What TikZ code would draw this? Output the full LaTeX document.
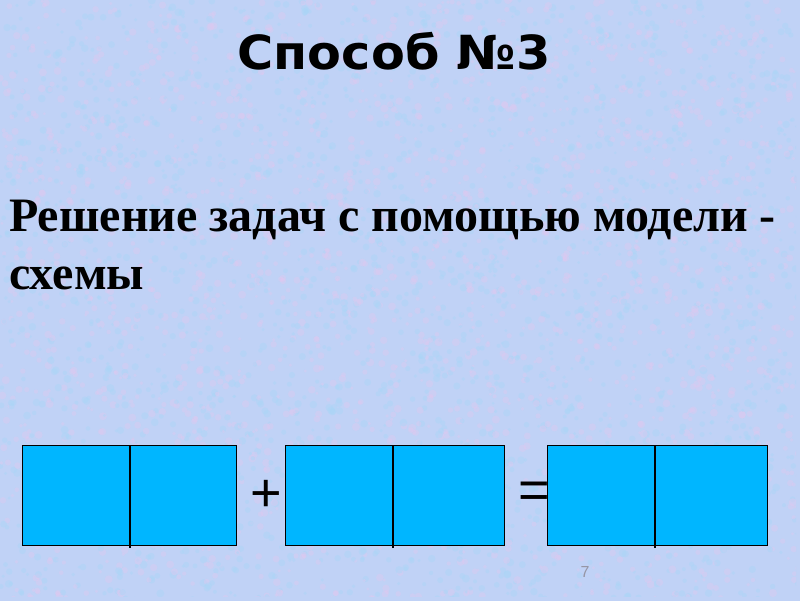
\documentclass[tikz,border=0pt]{standalone}
\usepackage{fontspec}
\setmainfont{Liberation Serif}
\newfontfamily\titlefont[FakeStretch=1.05]{DejaVu Sans}
\newfontfamily\signfont{Liberation Sans}
\usepackage{tikz}
\usetikzlibrary{positioning}

\definecolor{bgblue}{RGB}{192,210,246}
\definecolor{spotpink}{RGB}{224,200,240}
\definecolor{spotblue}{RGB}{170,214,248}
\definecolor{cellblue}{RGB}{0,182,255}
\definecolor{pagegray}{RGB}{150,150,165}

\tikzset{
	cell/.style={draw=black, line width=1.2pt, fill=cellblue, minimum height=100pt, inner sep=0pt, anchor=north west},
	sign/.style={font=\signfont\fontsize{54pt}{54pt}\selectfont, inner sep=0pt}
}

\begin{document}
\begin{tikzpicture}[x=1pt, y=-1pt]
		\useasboundingbox (0, 0) rectangle (800, 600);
		\fill[bgblue] (-5, -5) rectangle (805, 605);
		\begin{scope}
			\clip (-1, -1) rectangle (796, 596);
			% mottled background
			\pgfmathsetseed{7}
			\foreach \i in {1, ..., 2200} {
				\pgfmathsetmacro{\px}{800*rnd}
				\pgfmathsetmacro{\py}{600*rnd}
				\pgfmathsetmacro{\pr}{1.5+2.5*rnd}
				\fill[spotpink, opacity=0.4] (\px, \py) circle[radius=\pr];
				\pgfmathsetmacro{\qx}{800*rnd}
				\pgfmathsetmacro{\qy}{600*rnd}
				\fill[spotblue, opacity=0.45] (\qx, \qy) circle[radius=\pr];
			}
		\end{scope}

		\node[anchor=base, font=\titlefont\bfseries\fontsize{47pt}{47pt}\selectfont] (title) at (394, 69) {Способ №3};
		\node[anchor=base west, font=\bfseries\fontsize{48pt}{48pt}\selectfont, inner sep=0pt] (line1) at (9, 231) {Решение задач с помощью модели -};
		\node[anchor=base west, font=\bfseries\fontsize{48pt}{48pt}\selectfont, inner sep=0pt] (line2) at (9, 289) {схемы};

		% three schemes of two parts
		\foreach \x/\w/\n in {22/106/a, 285/111/b, 547/112/c} {
			\node[cell, minimum width=107pt] (\n1) at (\x, 445) {};
			\node[cell, minimum width=\w pt, right=0pt of \n1.north east, anchor=north west] (\n2) {};
			\draw[line width=2pt] (\n1.north east) -- ([yshift=-2pt]\n1.south east);
		}

		\node[sign] (plus) at (266, 496) {+};
		\node[sign] (eq) at (534, 495) {=};
		\node[font=\signfont\fontsize{16pt}{16pt}\selectfont, text=pagegray] (page) at (585, 572) {7};
	\end{tikzpicture}
\end{document}
